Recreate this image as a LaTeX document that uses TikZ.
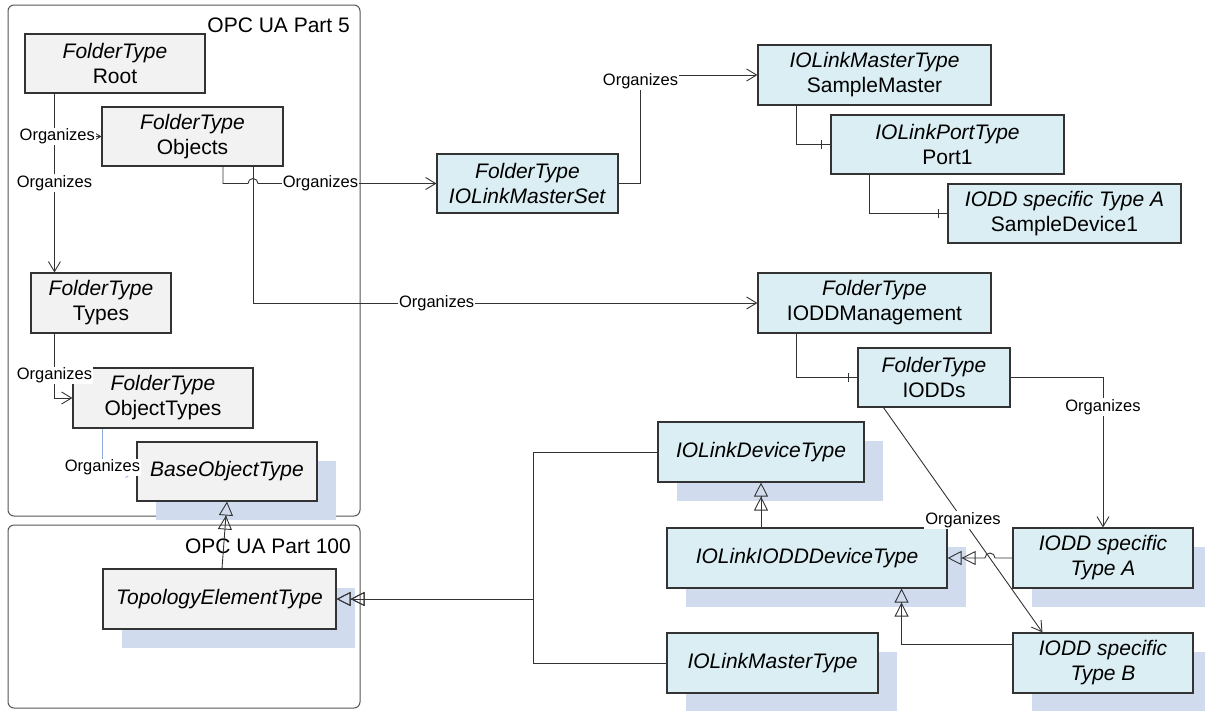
\documentclass[tikz,border=0pt]{standalone}
\usepackage{fontspec}
\setmainfont{Liberation Sans}
\usetikzlibrary{arrows.meta,shadows,decorations.markings,calc}
\definecolor{grayfill}{HTML}{F2F2F2}
\definecolor{bluefill}{HTML}{DAEEF3}
\definecolor{shadowblue}{HTML}{D0DBEE}
\definecolor{linegray}{HTML}{333333}
\definecolor{framegray}{HTML}{555555}
\definecolor{orgblue}{HTML}{8EA9DB}
\begin{document}
\begin{tikzpicture}[x=1pt,y=-1pt,
  container/.style={draw=framegray, line width=1pt, rounded corners=6pt, inner sep=0pt},
  partlabel/.style={anchor=base east, inner sep=0pt, font=\fontsize{21}{25}\selectfont},
  box/.style={draw=linegray, line width=1.1pt, align=center, inner sep=0pt, font=\fontsize{21}{25}\selectfont},
  gbox/.style={box, fill=grayfill},
  bbox/.style={box, fill=bluefill},
  shad/.style={drop shadow={shadow xshift=19pt, shadow yshift=-19pt, fill=shadowblue, opacity=1}},
  conn/.style={draw=linegray, line width=0.9pt},
  org/.style={conn, -{Straight Barb[length=10pt,width=12pt]}},
  gen/.style={conn, -{Triangle[open,length=14pt,width=14pt,sep=0pt]Triangle[open,length=14pt,width=14pt,sep=0pt]}},
  comp/.style={conn, postaction={decorate}, decoration={markings, mark=at position -9pt with {\draw[linegray, line width=0.9pt] (0pt,-4.5pt) -- (0pt,4.5pt);}}},
  lbl/.style={fill=white, inner sep=1pt, text=black, font=\fontsize{16.5}{18}\selectfont}
]
\useasboundingbox (0,0) rectangle (1205,710);

% containers
\node[container, minimum width=352pt, minimum height=511pt] (part5) at (184,260.5) {};
\node[container, minimum width=352pt, minimum height=183pt] (part100) at (184,616.5) {};
\node[partlabel] (part5lbl) at (350,32) {OPC UA Part 5};
\node[partlabel] (part100lbl) at (351,553) {OPC UA Part 100};

% nodes (Part 5)
\node[gbox, minimum width=180pt, minimum height=59pt] (root) at (115,63.5) {\textit{FolderType}\\Root};
\node[gbox, minimum width=181pt, minimum height=59pt] (objects) at (192.5,136.5) {\textit{FolderType}\\Objects};
\node[gbox, minimum width=140pt, minimum height=60pt] (types) at (101,303) {\textit{FolderType}\\Types};
\node[gbox, minimum width=180pt, minimum height=60pt] (objtypes) at (163,398) {\textit{FolderType}\\ObjectTypes};
\node[gbox, shad, minimum width=180pt, minimum height=59pt] (base) at (227,471.5) {\textit{BaseObjectType}};
% Part 100
\node[gbox, shad, minimum width=233pt, minimum height=60pt] (topo) at (219.5,599) {\textit{TopologyElementType}};

% IO-Link instances
\node[bbox, minimum width=181pt, minimum height=59pt] (mset) at (527.5,183.5) {\textit{FolderType}\\\textit{IOLinkMasterSet}};
\node[bbox, minimum width=233pt, minimum height=60pt] (smaster) at (874.5,75) {\textit{IOLinkMasterType}\\SampleMaster};
\node[bbox, minimum width=233pt, minimum height=59pt] (port1) at (947.5,144.5) {\textit{IOLinkPortType}\\Port1};
\node[bbox, minimum width=233pt, minimum height=59pt] (sdev) at (1064.5,213.5) {\textit{IODD specific Type A}\\SampleDevice1};
\node[bbox, minimum width=233pt, minimum height=60pt] (iodm) at (874.5,303) {\textit{FolderType}\\IODDManagement};
\node[bbox, minimum width=152pt, minimum height=59pt] (iodds) at (934,377.5) {\textit{FolderType}\\IODDs};

% IO-Link types
\node[bbox, shad, minimum width=206pt, minimum height=60pt] (devtype) at (761,452) {\textit{IOLinkDeviceType}};
\node[bbox, shad, minimum width=280pt, minimum height=60pt] (iodd) at (807,558) {\textit{IOLinkIODDDeviceType}};
\node[bbox, shad, minimum width=211pt, minimum height=60pt] (mtype) at (772.5,663) {\textit{IOLinkMasterType}};
\node[bbox, shad, minimum width=180pt, minimum height=60pt] (typeA) at (1103,558) {\textit{IODD specific}\\\textit{Type A}};
\node[bbox, shad, minimum width=180pt, minimum height=60pt] (typeB) at (1103,663) {\textit{IODD specific}\\\textit{Type B}};

% helper coordinates
\coordinate (rootout) at ([xshift=30pt]root.south west);
\coordinate (typesout) at ([xshift=24pt]types.south west);
\coordinate (otout) at ([xshift=30pt]objtypes.south west);
\coordinate (hopA) at (253,183.5);
\coordinate (hopB) at (990,558);
\coordinate (fork) at (533,599);

% Organizes references
\draw[org] (rootout) -- (rootout |- types.north) node[lbl,pos=0.5] {Organizes};
\draw[org] (rootout) |- (objects.west) node[lbl,pos=0.53] {Organizes};
\draw[org] (typesout) |- (objtypes.west) node[lbl,pos=0.323] {Organizes};
\draw[org, draw=orgblue] (otout) |- (base.west) node[lbl,pos=0.5,yshift=4pt] {Organizes};
\draw[org] ([xshift=60.5pt]objects.south) |- (iodm.west) node[lbl,pos=0.682] {Organizes};
\draw[org] ([xshift=30.5pt]objects.south) |- ([xshift=-5pt]hopA) arc[start angle=180,end angle=0,radius=5pt] -- (mset.west) node[lbl,pos=0.35] {Organizes};
\draw[org] (mset.east) -- ++(22,0) |- (smaster.west) node[lbl,pos=0.5,yshift=-6pt] {Organizes};
\draw[org] (iodds.east) -| (typeA.north) node[lbl,pos=0.598] {Organizes};
\draw[org] ([xshift=26pt]iodds.south west) -- ([xshift=30pt]typeB.north west) node[lbl,pos=0.5] {Organizes};

% HasComponent references
\draw[comp] ([xshift=39pt]smaster.south west) |- (port1.west);
\draw[comp] ([xshift=39pt]port1.south west) |- (sdev.west);
\draw[comp] ([xshift=39pt]iodm.south west) |- (iodds.west);

% HasSubtype references
\draw[gen] ([xshift=2.5pt]topo.north) -- (base.south);
\draw[gen] (devtype.west) -| (fork) -- (topo.east);
\draw[gen] (mtype.west) -| (fork) -- (topo.east);
\draw[gen] (devtype.south |- iodd.north) -- (devtype.south);
\draw[gen] (typeA.west) -- ([xshift=5pt]hopB) arc[start angle=0,end angle=180,radius=5pt] -- (iodd.east);
\draw[gen] ([yshift=-12pt]typeB.north west) -| ([xshift=-46pt]iodd.south east);
\end{tikzpicture}
\end{document}
